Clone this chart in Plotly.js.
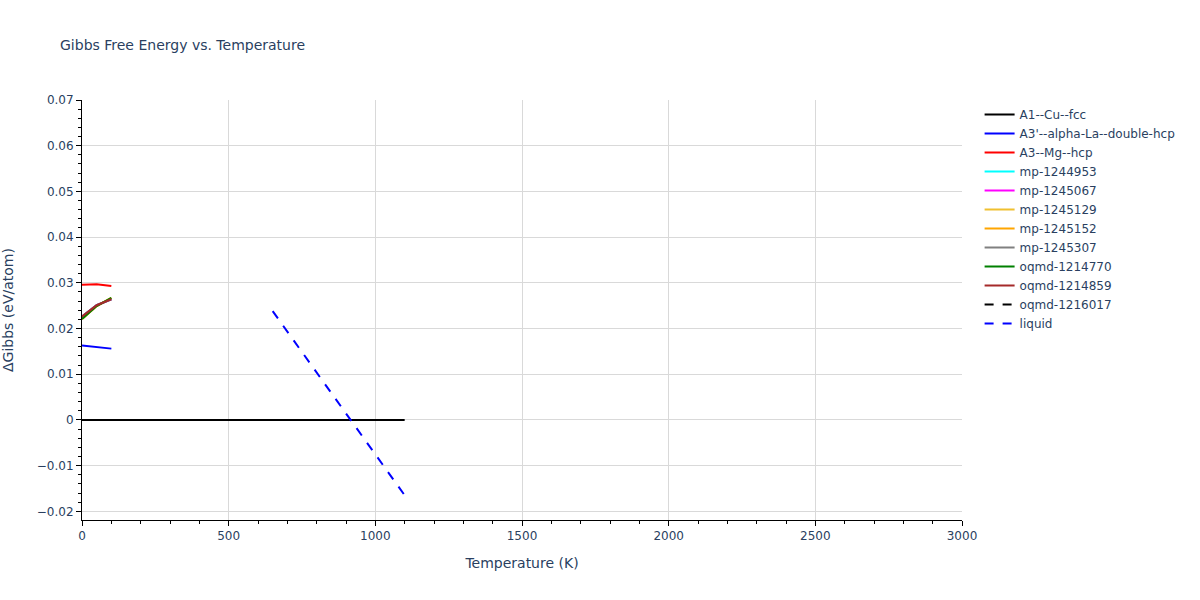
<!DOCTYPE html>
<html>
<head>
<meta charset="utf-8">
<script src="https://cdn.plot.ly/plotly-3.0.1.min.js"></script>
<style>html,body{margin:0;padding:0;background:#fff;}#chart{width:1200px;height:600px;}</style>
</head>
<body>
<div id="chart"></div>
<script>
// Data
const names = ["A1--Cu--fcc","A3'--alpha-La--double-hcp","A3--Mg--hcp","mp-1244953","mp-1245067","mp-1245129","mp-1245152","mp-1245307","oqmd-1214770","oqmd-1214859","oqmd-1216017","liquid"];
const colors = ["black","blue","red","cyan","magenta","#f0c030","orange","gray","green","brown","black","blue"];
const dashes = ["solid","solid","solid","solid","solid","solid","solid","solid","solid","solid","dash","dash"];

const fccT = [0, 100, 200, 300, 400, 500, 600, 700, 800, 900, 1000, 1100];
const fccG = [0, 0, 0, 0, 0, 0, 0, 0, 0, 0, 0, 0];
const dhcpT = [0, 50, 100];
const dhcpG = [0.0163, 0.0160, 0.0156];
const hcpT = [0, 50, 100];
const hcpG = [0.0296, 0.0297, 0.0293];
// mp-* entries are hidden underneath the oqmd lines in the reference
const mp1244953T = [0, 50, 100];
const mp1244953G = [0.0226, 0.0251, 0.0264];
const mp1245067T = [0, 50, 100];
const mp1245067G = [0.0226, 0.0251, 0.0264];
const mp1245129T = [0, 50, 100];
const mp1245129G = [0.0221, 0.0249, 0.0267];
const mp1245152T = [0, 50, 100];
const mp1245152G = [0.0221, 0.0249, 0.0267];
const mp1245307T = [0, 50, 100];
const mp1245307G = [0.0226, 0.0251, 0.0264];
const oq770T = [0, 50, 100];
const oq770G = [0.0221, 0.0249, 0.0267];
const oq859T = [0, 50, 100];
const oq859G = [0.0226, 0.0251, 0.0264];
// oqmd-1216017 lies on the zero reference line
const oq017T = [0, 50, 100];
const oq017G = [0, 0, 0];
const liqT = [650, 700, 800, 900, 1000, 1100];
const liqG = [0.0238, 0.0193, 0.0104, 0.0014, -0.0076, -0.0165];

const xs = [fccT, dhcpT, hcpT, mp1244953T, mp1245067T, mp1245129T, mp1245152T, mp1245307T, oq770T, oq859T, oq017T, liqT];
const ys = [fccG, dhcpG, hcpG, mp1244953G, mp1245067G, mp1245129G, mp1245152G, mp1245307G, oq770G, oq859G, oq017G, liqG];

const traces = names.map((n, i) => ({
  x: xs[i], y: ys[i], name: n, type: 'scatter', mode: 'lines',
  line: {color: colors[i], dash: dashes[i], width: 2}
}));

const layout = {
  width: 1200, height: 600,
  margin: {l: 82, r: 238, t: 100, b: 80},
  paper_bgcolor: 'white', plot_bgcolor: 'white',
  font: {family: '"DejaVu Sans", verdana, arial, sans-serif', size: 12, color: '#2a3f5f'},
  title: {text: 'Gibbs Free Energy vs. Temperature', x: 0.05, xanchor: 'left', y: 0.925, yanchor: 'middle', font: {size: 14, color: '#2a3f5f'}},
  xaxis: {
    title: {text: 'Temperature (K)', font: {size: 14}, standoff: 15},
    range: [0, 3000], dtick: 500, showline: true, linecolor: 'black', linewidth: 1,
    ticks: 'outside', tickcolor: 'black', ticklen: 5,
    showgrid: true, gridcolor: '#d9d9d9', zeroline: false, automargin: false,
    minor: {dtick: 100, ticks: 'outside', ticklen: 3, tickcolor: 'black', showgrid: false}
  },
  yaxis: {
    title: {text: 'ΔGibbs (eV/atom)', font: {size: 14}, standoff: 20},
    range: [-0.0219, 0.07], dtick: 0.01, showline: true, linecolor: 'black', linewidth: 1,
    ticks: 'outside', tickcolor: 'black', ticklen: 5,
    showgrid: true, gridcolor: '#d9d9d9', zeroline: true, zerolinecolor: '#d9d9d9', zerolinewidth: 1, automargin: false,
    minor: {dtick: 0.002, ticks: 'outside', ticklen: 3, tickcolor: 'black', showgrid: false}
  },
  legend: {x: 1.02, y: 1, xanchor: 'left', yanchor: 'top', font: {size: 12}},
  showlegend: true
};

Plotly.newPlot('chart', traces, layout, {displayModeBar: false});
</script>
</body>
</html>
